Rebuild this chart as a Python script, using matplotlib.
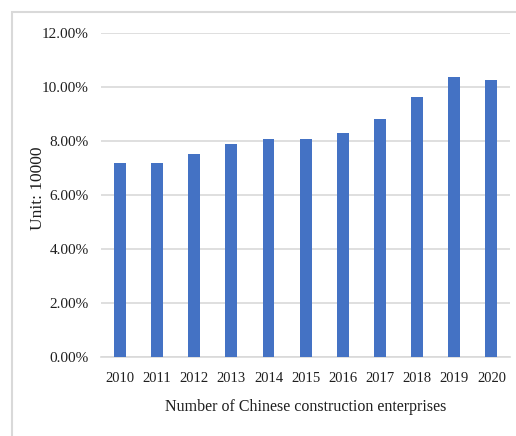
import matplotlib
matplotlib.use("Agg")
import matplotlib.pyplot as plt
from matplotlib.patches import Rectangle
from matplotlib.ticker import FuncFormatter

years = ["2010", "2011", "2012", "2013", "2014", "2015",
         "2016", "2017", "2018", "2019", "2020"]
values = [7.18, 7.21, 7.52, 7.88, 8.10, 8.10, 8.31, 8.81, 9.65, 10.37, 10.26]
y_ticks = [0, 2, 4, 6, 8, 10, 12]

plt.rcParams["font.family"] = ["Liberation Serif", "DejaVu Serif"]
text_color = "#1f1f1f"
grid_color = "#d9d9d9"

W, H = 516, 436
fig = plt.figure(figsize=(W / 100, H / 100), dpi=100)
ax = fig.add_axes([101.4 / W, 1 - 356.7 / H, (510 - 101.4) / W, (356.7 - 33.5) / H])

x = range(len(years))
ax.bar(x, values, width=0.32, color="#4472C4", zorder=3)

ax.set_xlim(-0.5, len(years) - 0.5)
ax.set_ylim(0, 12)
ax.set_yticks(y_ticks)
ax.yaxis.set_major_formatter(FuncFormatter(lambda v, _: f"{v:.2f}%"))
ax.set_xticks(list(x))
ax.set_xticklabels(years)

ax.grid(axis="y", color=grid_color, linewidth=1.2, zorder=0)
ax.tick_params(axis="both", length=0, colors=text_color)
ax.tick_params(axis="y", pad=9, labelsize=11)
ax.tick_params(axis="x", pad=11, labelsize=10.5)
for side in ("top", "right", "left"):
    ax.spines[side].set_visible(False)
ax.spines["bottom"].set_color(grid_color)
ax.spines["bottom"].set_linewidth(1.2)

ax.set_xlabel("Number of Chinese construction enterprises", fontsize=11.5,
              color=text_color, labelpad=10)
fig.text(38 / W, 1 - 188 / H, "Unit: 10000", rotation=90, fontsize=12.5,
         color=text_color, ha="center", va="center")

# light frame around the chart area
fig.add_artist(Rectangle((12 / W, -0.1), 1.2, 1.1 - 12 / H,
                         transform=fig.transFigure, fill=False,
                         edgecolor=grid_color, linewidth=1.5))

fig.savefig("out.png", dpi=100)
